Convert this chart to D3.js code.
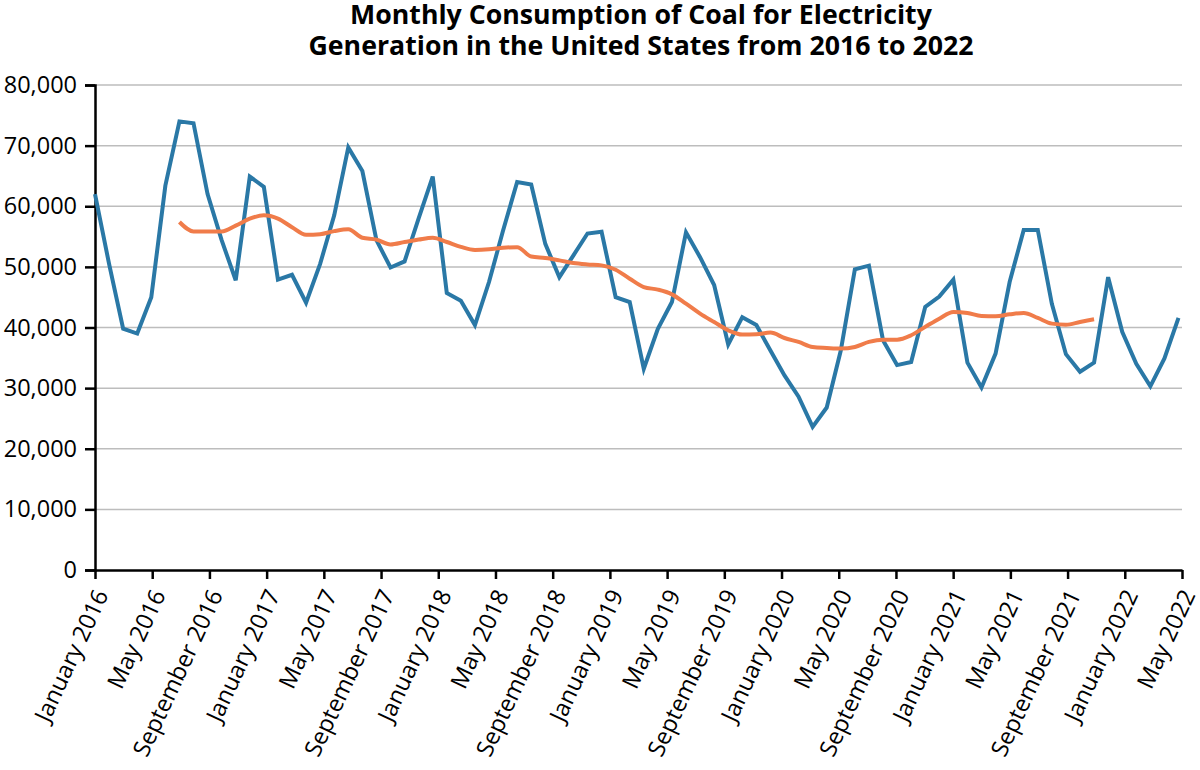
<!DOCTYPE html>
<html>
<head>
<meta charset="utf-8">
<script src="https://cdn.jsdelivr.net/npm/d3@7"></script>
<style>
  body { margin: 0; background: #fff; }
  svg text { font-family: "Open Sans", "Noto Sans", sans-serif; }
</style>
</head>
<body>
<div id="chart"></div>
<script>
// monthly coal consumption (thousand short tons), Jan 2016 .. Jun 2022
const consumption = [
  62000, 50500, 39800, 39000, 45000, 63400, 74000, 73700, 62000, 54400, 47800, 64900,
  63200, 47900, 48700, 44100, 50500, 58500, 69700, 65800, 54400, 49900, 50900, 58000,
  64900, 45700, 44400, 40400, 47500, 56000, 64000, 63600, 53800, 48300, 51900, 55500,
  55800, 45000, 44200, 33200, 39800, 44200, 55700, 51600, 47000, 37200, 41700, 40400,
  36200, 32100, 28600, 23600, 26800, 36200, 49600, 50200, 37900, 33800, 34300, 43400,
  45100, 47900, 34200, 30100, 35700, 47500, 56100, 56100, 43900, 35600, 32700, 34200,
  48300, 39300, 34000, 30300, 34900, 41600
];

// 12-month moving average, Jul 2016 .. Dec 2021
const avgStart = 6;
const movingAvg = [
  57400, 55850, 55850, 55850, 56800, 57950, 58500, 57950, 56550, 55300, 55400, 55900,
  56200, 54800, 54500, 53700, 54100, 54500, 54800, 54100, 53300, 52800, 52900, 53150,
  53250, 51700, 51450, 51070, 50630, 50400, 50250, 49530, 48050, 46680, 46250, 45470,
  43930, 42290, 40900, 39540, 38830, 38880, 39160, 38270, 37620, 36790, 36630, 36520,
  36790, 37620, 38000, 38000, 38720, 40100, 41460, 42560, 42400, 41900, 41850, 42180,
  42400, 41570, 40640, 40470, 40910, 41350
];

const tickLabels = [
  "January 2016", "May 2016", "September 2016",
  "January 2017", "May 2017", "September 2017",
  "January 2018", "May 2018", "September 2018",
  "January 2019", "May 2019", "September 2019",
  "January 2020", "May 2020", "September 2020",
  "January 2021", "May 2021", "September 2021",
  "January 2022", "May 2022"
];

const yTicks = [0, 10000, 20000, 30000, 40000, 50000, 60000, 70000, 80000];

const width = 1200;
const height = 770;
const margin = { top: 85, right: 18, bottom: 200, left: 95 };
const plotRight = width - margin.right;
const plotBottom = height - margin.bottom;
const fontStack = '"Open Sans", "Noto Sans", sans-serif';

const svg = d3
  .select("#chart")
  .append("svg")
  .attr("width", width)
  .attr("height", height);

const xScale = d3
  .scaleLinear()
  .domain([0, consumption.length - 1])
  .range([margin.left, plotRight - 3.5]);

const xTickScale = d3
  .scalePoint()
  .domain(tickLabels)
  .range([margin.left, plotRight]);

const yScale = d3
  .scaleLinear()
  .domain([0, 80000])
  .range([plotBottom, margin.top]);

// gridlines
svg
  .append("g")
  .attr("class", "grid")
  .selectAll("line")
  .data(yTicks.filter((d) => d > 0))
  .enter()
  .append("line")
  .attr("x1", margin.left)
  .attr("x2", plotRight)
  .attr("y1", (d) => yScale(d))
  .attr("y2", (d) => yScale(d))
  .attr("stroke", "#bdbdbd")
  .attr("stroke-width", 1.5);

// y axis
const yAxis = svg
  .append("g")
  .attr("class", "y-axis")
  .attr("transform", `translate(${margin.left},0)`)
  .call(
    d3
      .axisLeft(yScale)
      .tickValues(yTicks)
      .tickSize(10)
      .tickPadding(8)
      .tickFormat(d3.format(","))
  );

yAxis.attr("font-family", fontStack);
yAxis.select(".domain").attr("stroke", "#000").attr("stroke-width", 2.5);
yAxis.selectAll(".tick line").attr("stroke", "#000").attr("stroke-width", 2.5);
yAxis
  .selectAll(".tick text")
  .attr("fill", "#000")
  .style("font-size", "23.5px");

// x axis
const xAxis = svg
  .append("g")
  .attr("class", "x-axis")
  .attr("transform", `translate(0,${plotBottom})`)
  .call(d3.axisBottom(xTickScale).tickSize(9).tickSizeOuter(0));

xAxis.attr("font-family", fontStack);
xAxis
  .select(".domain")
  .attr("stroke", "#000")
  .attr("stroke-width", 2.5);
xAxis.selectAll(".tick line").attr("stroke", "#000").attr("stroke-width", 2.5);
xAxis
  .selectAll(".tick text")
  .attr("fill", "#000")
  .style("font-size", "23.5px")
  .attr("text-anchor", "end")
  .attr("x", 0)
  .attr("y", 0)
  .attr("dy", "0.35em")
  .attr("transform", "translate(6,21) rotate(-65)");

// lines
const consumptionLine = d3
  .line()
  .x((d, i) => xScale(i))
  .y((d) => yScale(d));

const avgLine = d3
  .line()
  .x((d, i) => xScale(i + avgStart))
  .y((d) => yScale(d))
  .curve(d3.curveMonotoneX);

svg
  .append("path")
  .datum(consumption)
  .attr("fill", "none")
  .attr("stroke", "#2a78a6")
  .attr("stroke-width", 4)
  .attr("stroke-linejoin", "miter")
  .attr("d", consumptionLine);

svg
  .append("path")
  .datum(movingAvg)
  .attr("fill", "none")
  .attr("stroke", "#f07c4a")
  .attr("stroke-width", 4)
  .attr("stroke-linejoin", "round")
  .attr("d", avgLine);

// title
const title = svg
  .append("text")
  .attr("text-anchor", "middle")
  .attr("x", 641)
  .style("font-size", "26.7px")
  .style("font-weight", "bold");

title.append("tspan").attr("x", 641).attr("y", 24).text("Monthly Consumption of Coal for Electricity");
title
  .append("tspan")
  .attr("x", 641)
  .attr("y", 55)
  .text("Generation in the United States from 2016 to 2022");
</script>
</body>
</html>
